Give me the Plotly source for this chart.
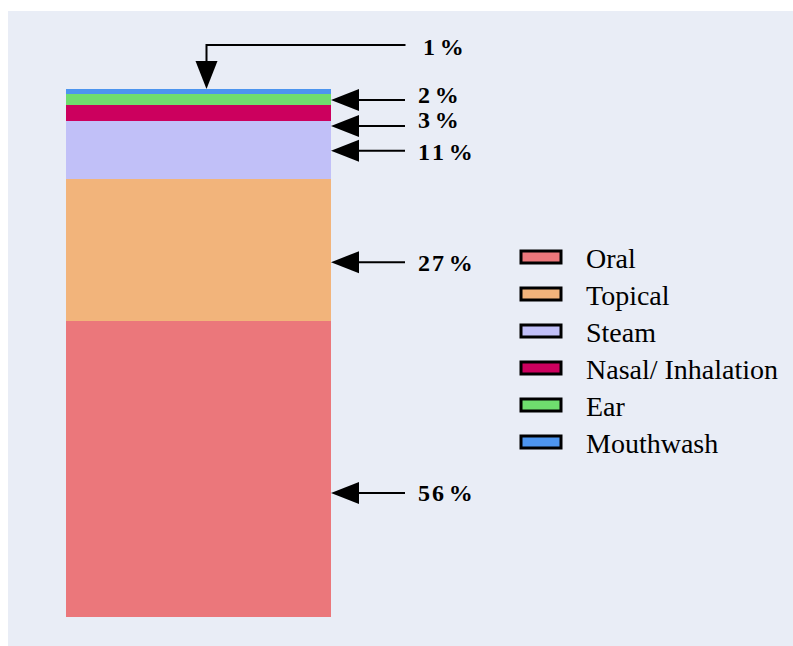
import plotly.graph_objects as go

# Route-of-administration shares (bottom of the stack first)
categories = ["Oral", "Topical", "Steam", "Nasal/ Inhalation", "Ear", "Mouthwash"]
shares = [56, 27, 11, 3, 2, 1]
colors = ["#EB777B", "#F2B47B", "#C1C0F8", "#CC005E", "#6FDD6E", "#4D95EF"]

# Where each callout arrow touches the bar (value units) and vertical nudge of its label (px)
arrow_at = [23.5, 67.2, 88.3, 93.0, 97.9, None]
label_nudge = [0, -1, -1, 6, 5, 0]

W, H = 793, 646
L, T = 8, 11
plot_w, plot_h = W - L, H - T
BG = "#E9EDF6"

# Axis ranges: the bar spans 265 px horizontally and 5.28 px per percentage point
x_range = [(L - 198.5) / 265, (W - 198.5) / 265]
y_range = [-(H - 617) / 5.28, 100 + (89 - T) / 5.28]


def px_x(px):
    return (px - L) / plot_w


def px_y(py):
    return (H - py) / plot_h


def pct_label(v):
    # spaced-out digits, thin space before the percent sign
    return "<b>" + "\u200a".join(str(v)) + "\u2009%</b>"


fig = go.Figure()
for name, val, col in zip(categories, shares, colors):
    fig.add_trace(go.Bar(
        x=[0], y=[val], name=name, width=1,
        marker=dict(color=col, line=dict(width=0)),
        showlegend=False, hoverinfo="skip",
    ))

# white frame strips along the top and left edges of the page
shapes = [
    dict(type="rect", xref="paper", yref="paper", layer="below",
         x0=px_x(0), x1=px_x(W + 5), y0=1, y1=px_y(-5),
         fillcolor="white", line=dict(width=0)),
    dict(type="rect", xref="paper", yref="paper", layer="below",
         x0=px_x(-5), x1=0, y0=px_y(H + 5), y1=px_y(-5),
         fillcolor="white", line=dict(width=0)),
]
annotations = []
label_font = dict(family="Liberation Serif", size=24, color="black")

top = sum(shares)
for name, val, at, nudge in zip(categories, shares, arrow_at, label_nudge):
    text = pct_label(val)
    if at is None:
        # elbow arrow pointing down onto the top of the stack
        shapes.append(dict(type="path", xref="x", yref="y", xsizemode="pixel", ysizemode="pixel",
                           xanchor=0, yanchor=top, path="M8,0 L-3,28 L19,28 Z",
                           fillcolor="black", line=dict(width=0)))
        shapes.append(dict(type="path", xref="x", yref="y", xsizemode="pixel", ysizemode="pixel",
                           xanchor=0, yanchor=top, path="M8,28 L8,44 L207,44",
                           line=dict(color="black", width=2)))
        annotations.append(dict(xref="x", yref="y", x=0, y=top, xshift=222, yshift=42,
                                xanchor="left", yanchor="middle", text=text,
                                showarrow=False, font=label_font))
    else:
        shapes.append(dict(type="path", xref="x", yref="y", xsizemode="pixel", ysizemode="pixel",
                           xanchor=0.5, yanchor=at, path="M0,0 L28,11 L28,-11 Z",
                           fillcolor="black", line=dict(width=0)))
        shapes.append(dict(type="path", xref="x", yref="y", xsizemode="pixel", ysizemode="pixel",
                           xanchor=0.5, yanchor=at, path="M28,0 L74,0",
                           line=dict(color="black", width=2)))
        annotations.append(dict(xref="x", yref="y", x=0.5, y=at, xshift=85, yshift=nudge,
                                xanchor="left", yanchor="middle", text=text,
                                showarrow=False, font=label_font))

# Hand-drawn legend: wide outlined swatches with serif labels
legend_font = dict(family="Liberation Serif", size=28, color="black")
for i, (name, col) in enumerate(zip(categories, colors)):
    cy = 257 + i * 37
    shapes.append(dict(type="rect", xref="paper", yref="paper",
                       x0=px_x(521), x1=px_x(561), y0=px_y(cy + 6), y1=px_y(cy - 6),
                       fillcolor=col, line=dict(color="black", width=3)))
    annotations.append(dict(xref="paper", yref="paper", x=px_x(584), y=px_y(cy + 1),
                            xanchor="left", yanchor="middle", text=name,
                            showarrow=False, font=legend_font))

fig.update_layout(
    width=W, height=H,
    barmode="stack",
    margin=dict(l=L, r=0, t=T, b=0),
    paper_bgcolor=BG,
    plot_bgcolor=BG,
    xaxis=dict(range=x_range, visible=False, fixedrange=True),
    yaxis=dict(range=y_range, visible=False, fixedrange=True),
    shapes=shapes,
    annotations=annotations,
    showlegend=False,
)

fig.write_html("out.html")
